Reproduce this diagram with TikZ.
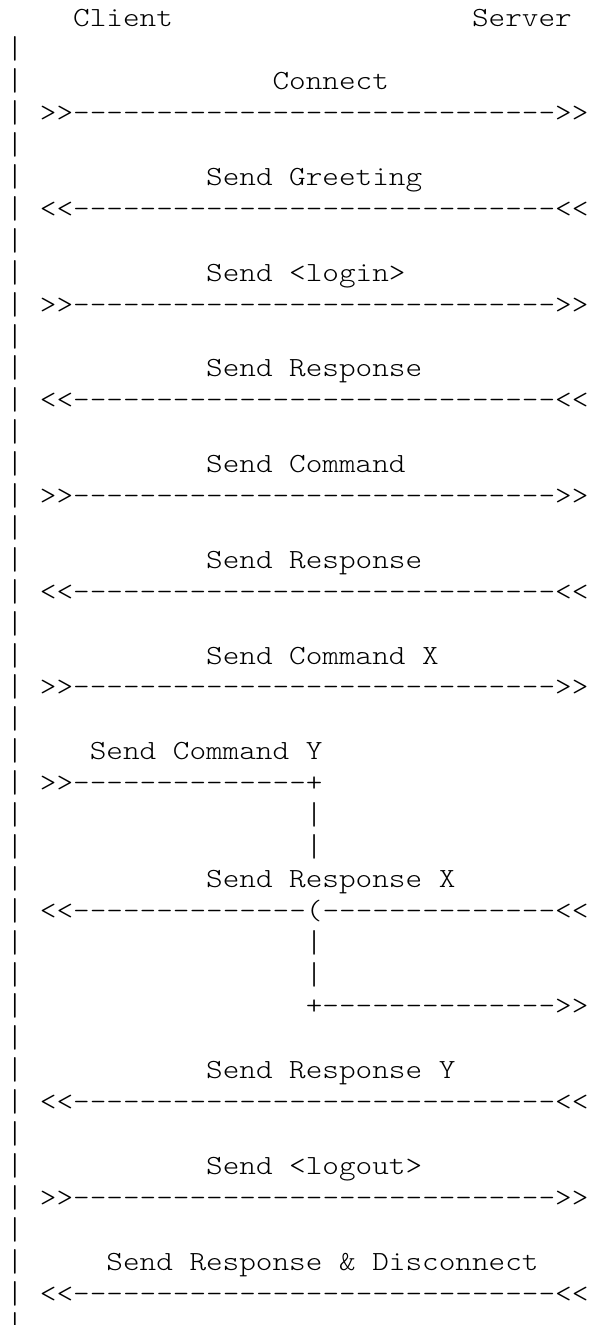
\documentclass[tikz,border=0pt]{standalone}
\usepackage{fontspec}
\setmonofont[FakeStretch=1.143]{lmmonolt10-regular.otf}
\newcommand\asciifont{\ttfamily\fontsize{27.7pt}{31.9pt}\selectfont}
\newcommand\vbar{\raisebox{-1pt}{\scalebox{1}[1.14]{|}}}
\begin{document}
\begin{tikzpicture}[txt/.style={anchor=base west, inner sep=0pt, outer sep=0pt, font=\asciifont}]
\useasboundingbox (0,0) rectangle (608pt,-1325pt);
\begin{scope}[shift={(6.7pt,-26pt)}, x=16.62pt, y=-31.9pt]
% header
\node[txt] (client) at (4,0) {Client};
\node[txt] (server) at (28,0) {Server};
% left life line
\foreach \i in {1,...,41} \node[txt] (bar\i) at (0,\i) {\vbar};
% messages
\node[txt] (m1)  at (16,2)  {Connect};
\node[txt] (a1)  at (2,3)   {>>-----------------------------{}>>};
\node[txt] (m2)  at (12,5)  {Send Greeting};
\node[txt] (a2)  at (2,6)   {<<-----------------------------{}<<};
\node[txt] (m3)  at (12,8)  {Send <login>};
\node[txt] (a3)  at (2,9)   {>>-----------------------------{}>>};
\node[txt] (m4)  at (12,11) {Send Response};
\node[txt] (a4)  at (2,12)  {<<-----------------------------{}<<};
\node[txt] (m5)  at (12,14) {Send Command};
\node[txt] (a5)  at (2,15)  {>>-----------------------------{}>>};
\node[txt] (m6)  at (12,17) {Send Response};
\node[txt] (a6)  at (2,18)  {<<-----------------------------{}<<};
\node[txt] (m7)  at (12,20) {Send Command X};
\node[txt] (a7)  at (2,21)  {>>-----------------------------{}>>};
\node[txt] (m8)  at (5,23)  {Send Command Y};
\node[txt] (a8)  at (2,24)  {>>--------------+};
\node[txt] (v1)  at (18,25) {\vbar};
\node[txt] (v2)  at (18,26) {\vbar};
\node[txt] (m9)  at (12,27) {Send Response X};
\node[txt] (a9)  at (2,28)  {<<--------------(--------------{}<<};
\node[txt] (v3)  at (18,29) {\vbar};
\node[txt] (v4)  at (18,30) {\vbar};
\node[txt] (a10) at (18,31) {+--------------{}>>};
\node[txt] (m10) at (12,33) {Send Response Y};
\node[txt] (a11) at (2,34)  {<<-----------------------------{}<<};
\node[txt] (m11) at (12,36) {Send <logout>};
\node[txt] (a12) at (2,37)  {>>-----------------------------{}>>};
\node[txt] (m12) at (6,39)  {Send Response \& Disconnect};
\node[txt] (a13) at (2,40)  {<<-----------------------------{}<<};
\end{scope}
\end{tikzpicture}
\end{document}
